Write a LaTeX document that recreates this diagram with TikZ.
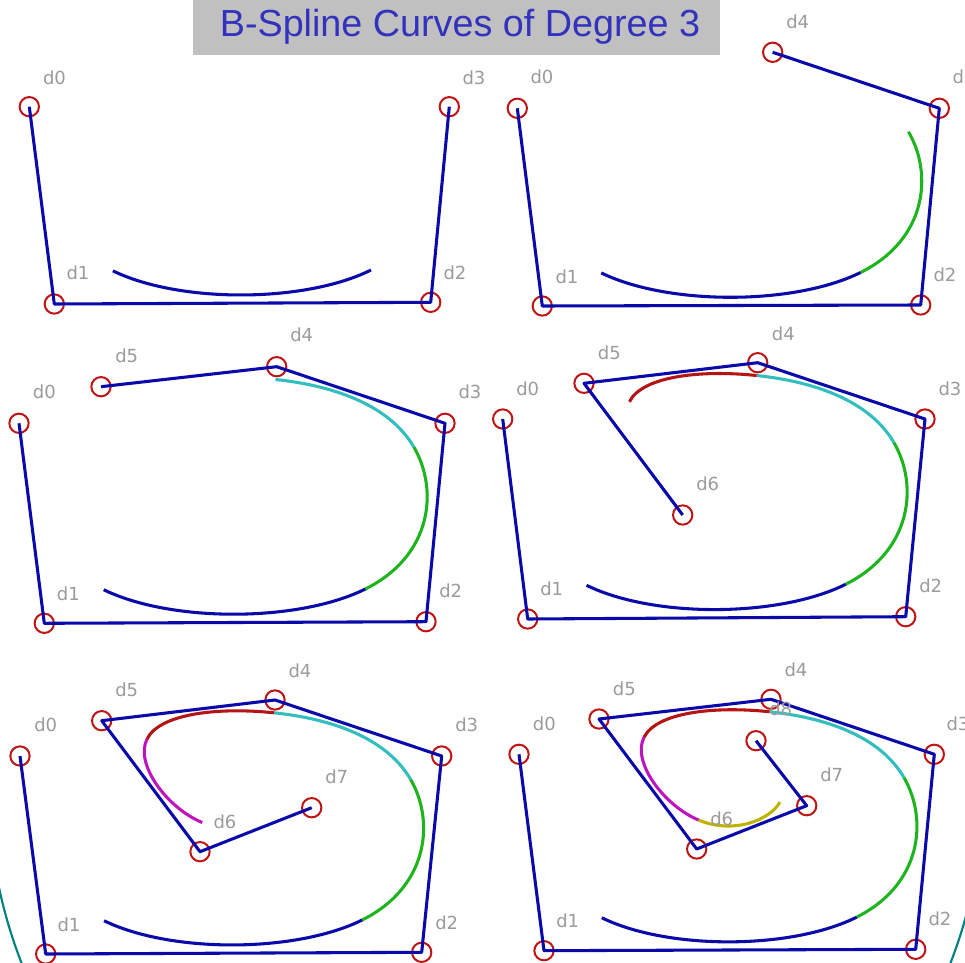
\documentclass[tikz,border=0pt]{standalone}
\usepackage{fontspec}
\setmainfont{Liberation Sans}
\newfontfamily\lblfont{DejaVu Sans}
\usetikzlibrary{calc}
\definecolor{polyblue}{RGB}{10,10,170}
\definecolor{ctrlred}{RGB}{190,20,20}
\definecolor{lblgray}{RGB}{155,155,155}
\definecolor{sgreen}{RGB}{30,180,30}
\definecolor{scyan}{RGB}{50,190,190}
\definecolor{sred}{RGB}{180,20,20}
\definecolor{smag}{RGB}{190,20,190}
\definecolor{solive}{RGB}{190,180,0}
\definecolor{titleblue}{RGB}{50,50,190}
\definecolor{titlegray}{RGB}{192,192,192}
\definecolor{arcteal}{RGB}{0,128,128}
\tikzset{
  ctrl/.style={circle,draw=ctrlred,line width=1.5pt,minimum size=14.5pt,inner sep=0pt},
  lbl/.style={text=lblgray,font=\lblfont\fontsize{13.5pt}{13.5pt}\selectfont,inner sep=0pt},
  poly/.style={draw=polyblue,line width=2.3pt,line join=round},
  seg/.style={line width=2.3pt}
}
\newcommand{\bsegment}[5]{%
  \draw[seg,#1] ($0.166667*(#2.center)+0.666667*(#3.center)+0.166667*(#4.center)$)
   .. controls ($0.666667*(#3.center)+0.333333*(#4.center)$)
   and ($0.333333*(#3.center)+0.666667*(#4.center)$)
   .. ($0.166667*(#3.center)+0.666667*(#4.center)+0.166667*(#5.center)$);}
\begin{document}
\begin{tikzpicture}[x=0.75pt,y=-0.75pt]
\fill[white] (0,0) rectangle (965,963);
\useasboundingbox (0,0) rectangle (965,963);
% background arcs
\begin{scope}
\clip (0,860) rectangle (45,963);
\draw[arcteal,line width=1.6pt] (486,783) circle[radius=373.5pt];
\end{scope}
\begin{scope}
\clip (925,880) rectangle (965,963);
\draw[arcteal,line width=1.6pt] (486,783) circle[radius=373.5pt];
\end{scope}
% title
\fill[titlegray] (193,0) rectangle (720,55);
\node[anchor=base,text=titleblue,font=\fontsize{28.3pt}{30pt}\selectfont,inner sep=0pt] (title) at (460,37) {B-Spline Curves of Degree 3};

% ---------- Panel A ----------
\node[ctrl] (aD0) at (29.3,106.7) {};
\node[ctrl] (aD1) at (54.3,304) {};
\node[ctrl] (aD2) at (430.7,302.3) {};
\node[ctrl] (aD3) at (449.3,106.7) {};
\draw[poly] (aD0.center) -- (aD1.center) -- (aD2.center) -- (aD3.center);
\bsegment{polyblue}{aD0}{aD1}{aD2}{aD3}
\node[lbl] (aL0) at (54.5,78) {d0};
\node[lbl] (aL1) at (78,273) {d1};
\node[lbl] (aL2) at (455,273) {d2};
\node[lbl] (aL3) at (474,78) {d3};

% ---------- Panel B ----------
\node[ctrl] (bD0) at (517.3,108.3) {};
\node[ctrl] (bD1) at (542.3,306) {};
\node[ctrl] (bD2) at (920.7,305) {};
\node[ctrl] (bD3) at (939.3,108.3) {};
\node[ctrl] (bD4) at (772.7,52.3) {};
\draw[poly] (bD0.center) -- (bD1.center) -- (bD2.center) -- (bD3.center) -- (bD4.center);
\bsegment{polyblue}{bD0}{bD1}{bD2}{bD3}
\bsegment{sgreen}{bD1}{bD2}{bD3}{bD4}
\node[lbl] (bL0) at (542,77) {d0};
\node[lbl] (bL1) at (567,277) {d1};
\node[lbl] (bL2) at (945,275) {d2};
\node[lbl] (bL3) at (964,77) {d3};
\node[lbl] (bL4) at (797.7,22) {d4};

% ---------- Panel C ----------
\node[ctrl] (cD0) at (19,423.3) {};
\node[ctrl] (cD1) at (44.3,623.3) {};
\node[ctrl] (cD2) at (426,621.7) {};
\node[ctrl] (cD3) at (445,423.3) {};
\node[ctrl] (cD4) at (276.7,366.7) {};
\node[ctrl] (cD5) at (101,386.7) {};
\draw[poly] (cD0.center) -- (cD1.center) -- (cD2.center) -- (cD3.center) -- (cD4.center) -- (cD5.center);
\bsegment{polyblue}{cD0}{cD1}{cD2}{cD3}
\bsegment{sgreen}{cD1}{cD2}{cD3}{cD4}
\bsegment{scyan}{cD2}{cD3}{cD4}{cD5}
\node[lbl] (cL0) at (44.3,391.7) {d0};
\node[lbl] (cL1) at (68.3,593.3) {d1};
\node[lbl] (cL2) at (450.7,590.7) {d2};
\node[lbl] (cL3) at (470,391.7) {d3};
\node[lbl] (cL4) at (301.7,335) {d4};
\node[lbl] (cL5) at (126.7,356) {d5};

% ---------- Panel D ----------
\node[ctrl] (dD0) at (502.7,419) {};
\node[ctrl] (dD1) at (527.7,619) {};
\node[ctrl] (dD2) at (905.7,616.7) {};
\node[ctrl] (dD3) at (925,419) {};
\node[ctrl] (dD4) at (757.7,362.7) {};
\node[ctrl] (dD5) at (584,383.3) {};
\node[ctrl] (dD6) at (682.7,515) {};
\draw[poly] (dD0.center) -- (dD1.center) -- (dD2.center) -- (dD3.center) -- (dD4.center) -- (dD5.center) -- (dD6.center);
\bsegment{polyblue}{dD0}{dD1}{dD2}{dD3}
\bsegment{sgreen}{dD1}{dD2}{dD3}{dD4}
\bsegment{scyan}{dD2}{dD3}{dD4}{dD5}
\bsegment{sred}{dD3}{dD4}{dD5}{dD6}
\node[lbl] (dL0) at (527.7,388.3) {d0};
\node[lbl] (dL1) at (551.7,588.3) {d1};
\node[lbl] (dL2) at (930.7,585.7) {d2};
\node[lbl] (dL3) at (950,388.3) {d3};
\node[lbl] (dL4) at (783.3,333.3) {d4};
\node[lbl] (dL5) at (609.3,352.3) {d5};
\node[lbl] (dL6) at (707.7,484) {d6};

% ---------- Panel E ----------
\node[ctrl] (eD0) at (20,756) {};
\node[ctrl] (eD1) at (45.7,954) {};
\node[ctrl] (eD2) at (421.7,952.3) {};
\node[ctrl] (eD3) at (441.7,756) {};
\node[ctrl] (eD4) at (275,700) {};
\node[ctrl] (eD5) at (101.7,720.7) {};
\node[ctrl] (eD6) at (200,851.7) {};
\node[ctrl] (eD7) at (311.7,807.7) {};
\draw[poly] (eD0.center) -- (eD1.center) -- (eD2.center) -- (eD3.center) -- (eD4.center) -- (eD5.center) -- (eD6.center) -- (eD7.center);
\bsegment{polyblue}{eD0}{eD1}{eD2}{eD3}
\bsegment{sgreen}{eD1}{eD2}{eD3}{eD4}
\bsegment{scyan}{eD2}{eD3}{eD4}{eD5}
\bsegment{sred}{eD3}{eD4}{eD5}{eD6}
\bsegment{smag}{eD4}{eD5}{eD6}{eD7}
\node[lbl] (eL0) at (45.7,725) {d0};
\node[lbl] (eL1) at (69,925) {d1};
\node[lbl] (eL2) at (446.7,922.7) {d2};
\node[lbl] (eL3) at (466.7,725) {d3};
\node[lbl] (eL4) at (300,670.7) {d4};
\node[lbl] (eL5) at (126.7,689.3) {d5};
\node[lbl] (eL6) at (225,821.7) {d6};
\node[lbl] (eL7) at (336.7,776.7) {d7};

% ---------- Panel F ----------
\node[ctrl] (fD0) at (519,754.3) {};
\node[ctrl] (fD1) at (544,950.7) {};
\node[ctrl] (fD2) at (915.7,949.3) {};
\node[ctrl] (fD3) at (934.3,754.3) {};
\node[ctrl] (fD4) at (771,699.3) {};
\node[ctrl] (fD5) at (599,719) {};
\node[ctrl] (fD6) at (696.7,849) {};
\node[ctrl] (fD7) at (806.7,805.7) {};
\node[ctrl] (fD8) at (756,740.7) {};
\draw[poly] (fD0.center) -- (fD1.center) -- (fD2.center) -- (fD3.center) -- (fD4.center) -- (fD5.center) -- (fD6.center) -- (fD7.center) -- (fD8.center);
\bsegment{polyblue}{fD0}{fD1}{fD2}{fD3}
\bsegment{sgreen}{fD1}{fD2}{fD3}{fD4}
\bsegment{scyan}{fD2}{fD3}{fD4}{fD5}
\bsegment{sred}{fD3}{fD4}{fD5}{fD6}
\bsegment{smag}{fD4}{fD5}{fD6}{fD7}
\bsegment{solive}{fD5}{fD6}{fD7}{fD8}
\node[lbl] (fL0) at (544.3,724) {d0};
\node[lbl] (fL1) at (567.7,920.7) {d1};
\node[lbl] (fL2) at (940,919) {d2};
\node[lbl] (fL3) at (958,724) {d3};
\node[lbl] (fL4) at (796,670) {d4};
\node[lbl] (fL5) at (624.3,688.3) {d5};
\node[lbl] (fL6) at (721.7,818.3) {d6};
\node[lbl] (fL7) at (831.7,775) {d7};
\node[lbl] (fL8) at (780.7,709) {d8};
\end{tikzpicture}
\end{document}
